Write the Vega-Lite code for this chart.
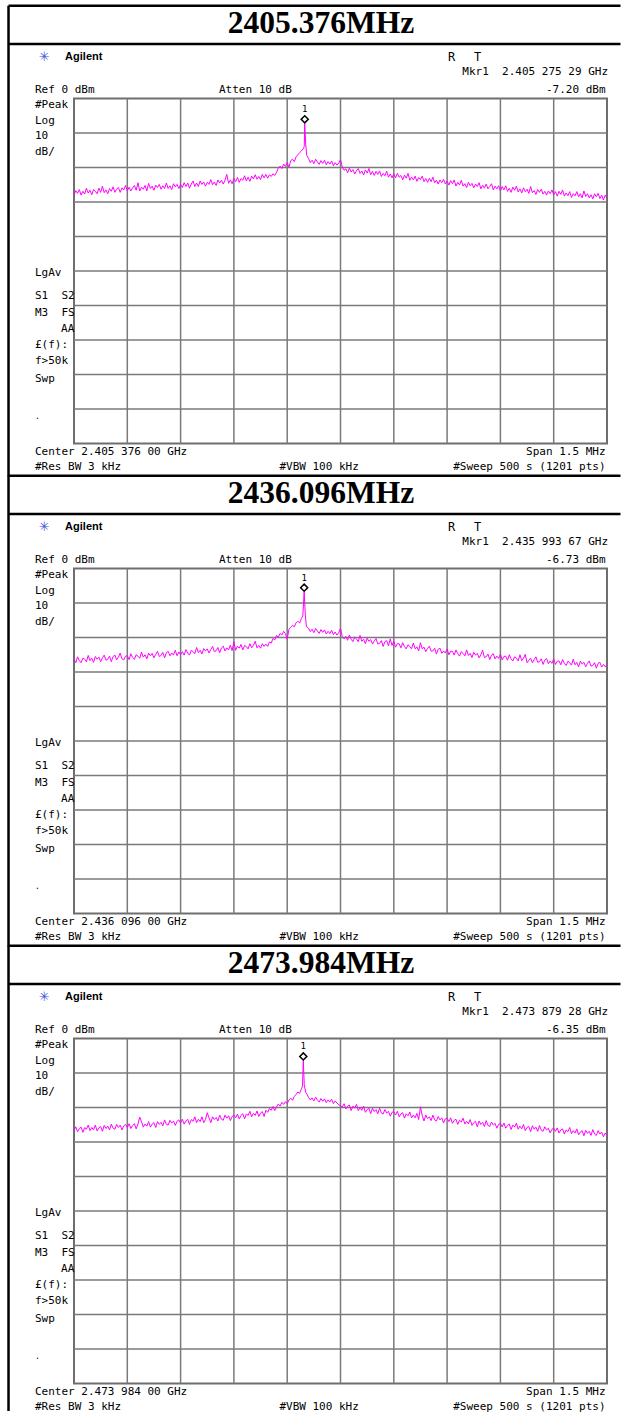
{
  "$schema": "https://vega.github.io/schema/vega-lite/v6.json",
  "padding": {"left": 6, "top": 2.5, "right": 0, "bottom": 0},
  "background": "white",
  "spacing": 125,
  "bounds": "flush",
  "config": {
    "view": {"stroke": "#6e6e6e", "strokeWidth": 2},
    "axis": {"disable": true, "labels": false, "ticks": false, "domain": false, "grid": false},
    "text": {"font": "DejaVu Sans Mono", "fontSize": 11, "baseline": "middle", "align": "left", "color": "#000000"},
    "concat": {"spacing": 125}
  },
  "datasets": {
    "hgrid": [{"dB":-90},{"dB":-80},{"dB":-70},{"dB":-60},{"dB":-50},{"dB":-40},{"dB":-30},{"dB":-20},{"dB":-10}],
    "vgrid": [{"div":-600},{"div":-450},{"div":-300},{"div":-150},{"div":0},{"div":150},{"div":300},{"div":450},{"div":600}],
    "p1": [
      {"kHz":-750,"dBm":-28.0},{"kHz":-745,"dBm":-26.7},{"kHz":-740,"dBm":-27.5},{"kHz":-735,"dBm":-26.4},{"kHz":-730,"dBm":-28.0},{"kHz":-725,"dBm":-26.9},{"kHz":-720,"dBm":-27.7},{"kHz":-715,"dBm":-26.0},{"kHz":-710,"dBm":-27.4},{"kHz":-705,"dBm":-26.6},
      {"kHz":-700,"dBm":-27.9},{"kHz":-695,"dBm":-26.4},{"kHz":-690,"dBm":-26.9},{"kHz":-685,"dBm":-27.6},{"kHz":-680,"dBm":-26.0},{"kHz":-675,"dBm":-27.2},{"kHz":-670,"dBm":-25.4},{"kHz":-665,"dBm":-27.3},{"kHz":-660,"dBm":-26.5},{"kHz":-655,"dBm":-27.6},
      {"kHz":-650,"dBm":-26.1},{"kHz":-645,"dBm":-26.9},{"kHz":-640,"dBm":-25.6},{"kHz":-635,"dBm":-27.2},{"kHz":-630,"dBm":-26.3},{"kHz":-625,"dBm":-25.8},{"kHz":-620,"dBm":-27.2},{"kHz":-615,"dBm":-25.9},{"kHz":-610,"dBm":-26.5},{"kHz":-605,"dBm":-25.2},
      {"kHz":-600,"dBm":-26.8},{"kHz":-595,"dBm":-25.7},{"kHz":-590,"dBm":-26.8},{"kHz":-585,"dBm":-25.9},{"kHz":-580,"dBm":-25.2},{"kHz":-575,"dBm":-26.6},{"kHz":-570,"dBm":-24.4},{"kHz":-565,"dBm":-26.8},{"kHz":-560,"dBm":-25.7},{"kHz":-555,"dBm":-26.3},
      {"kHz":-550,"dBm":-25.2},{"kHz":-545,"dBm":-26.8},{"kHz":-540,"dBm":-24.6},{"kHz":-535,"dBm":-26.1},{"kHz":-530,"dBm":-25.4},{"kHz":-525,"dBm":-26.6},{"kHz":-520,"dBm":-25.1},{"kHz":-515,"dBm":-25.8},{"kHz":-510,"dBm":-24.9},{"kHz":-505,"dBm":-26.3},
      {"kHz":-500,"dBm":-25.3},{"kHz":-495,"dBm":-26.1},{"kHz":-490,"dBm":-24.5},{"kHz":-485,"dBm":-26.1},{"kHz":-480,"dBm":-25.3},{"kHz":-475,"dBm":-26.4},{"kHz":-470,"dBm":-24.7},{"kHz":-465,"dBm":-25.6},{"kHz":-460,"dBm":-24.9},{"kHz":-455,"dBm":-26.1},
      {"kHz":-450,"dBm":-24.9},{"kHz":-445,"dBm":-25.8},{"kHz":-440,"dBm":-24.4},{"kHz":-435,"dBm":-25.5},{"kHz":-430,"dBm":-24.5},{"kHz":-425,"dBm":-26.0},{"kHz":-420,"dBm":-24.8},{"kHz":-415,"dBm":-23.9},{"kHz":-410,"dBm":-25.5},{"kHz":-405,"dBm":-24.5},
      {"kHz":-400,"dBm":-25.5},{"kHz":-395,"dBm":-23.9},{"kHz":-390,"dBm":-24.9},{"kHz":-385,"dBm":-24.2},{"kHz":-380,"dBm":-25.4},{"kHz":-375,"dBm":-24.3},{"kHz":-370,"dBm":-24.9},{"kHz":-365,"dBm":-23.5},{"kHz":-360,"dBm":-25.0},{"kHz":-355,"dBm":-24.2},
      {"kHz":-350,"dBm":-25.2},{"kHz":-345,"dBm":-23.6},{"kHz":-340,"dBm":-24.5},{"kHz":-335,"dBm":-23.7},{"kHz":-330,"dBm":-24.8},{"kHz":-325,"dBm":-23.7},{"kHz":-320,"dBm":-22.0},{"kHz":-315,"dBm":-24.6},{"kHz":-310,"dBm":-23.6},{"kHz":-305,"dBm":-24.7},
      {"kHz":-300,"dBm":-23.2},{"kHz":-295,"dBm":-24.1},{"kHz":-290,"dBm":-22.9},{"kHz":-285,"dBm":-24.3},{"kHz":-280,"dBm":-23.2},{"kHz":-275,"dBm":-23.7},{"kHz":-270,"dBm":-22.4},{"kHz":-265,"dBm":-23.9},{"kHz":-260,"dBm":-22.8},{"kHz":-255,"dBm":-24.0},
      {"kHz":-250,"dBm":-22.5},{"kHz":-245,"dBm":-23.3},{"kHz":-240,"dBm":-22.1},{"kHz":-235,"dBm":-23.4},{"kHz":-230,"dBm":-22.6},{"kHz":-225,"dBm":-23.5},{"kHz":-220,"dBm":-22.0},{"kHz":-215,"dBm":-23.0},{"kHz":-210,"dBm":-22.0},{"kHz":-205,"dBm":-23.1},
      {"kHz":-200,"dBm":-22.1},{"kHz":-195,"dBm":-22.6},{"kHz":-190,"dBm":-21.8},{"kHz":-185,"dBm":-22.3},{"kHz":-180,"dBm":-21.4},{"kHz":-175,"dBm":-20.2},{"kHz":-170,"dBm":-19.6},{"kHz":-165,"dBm":-20.3},{"kHz":-160,"dBm":-19.0},{"kHz":-155,"dBm":-19.7},
      {"kHz":-150,"dBm":-18.6},{"kHz":-145,"dBm":-19.9},{"kHz":-140,"dBm":-18.0},{"kHz":-135,"dBm":-17.6},{"kHz":-130,"dBm":-18.3},{"kHz":-125,"dBm":-16.9},{"kHz":-120,"dBm":-16.3},{"kHz":-115,"dBm":-15.7},{"kHz":-110,"dBm":-15.2},{"kHz":-105,"dBm":-14.6},
      {"kHz":-102,"dBm":-13.9},{"kHz":-100.7,"dBm":-7.2},{"kHz":-98,"dBm":-13.2},{"kHz":-95,"dBm":-16.5},{"kHz":-90,"dBm":-17.4},{"kHz":-85,"dBm":-18.6},{"kHz":-80,"dBm":-17.9},{"kHz":-75,"dBm":-18.9},{"kHz":-70,"dBm":-17.6},{"kHz":-65,"dBm":-18.4},
      {"kHz":-60,"dBm":-19.1},{"kHz":-55,"dBm":-18.0},{"kHz":-50,"dBm":-18.8},{"kHz":-45,"dBm":-17.9},{"kHz":-40,"dBm":-19.2},{"kHz":-35,"dBm":-18.3},{"kHz":-30,"dBm":-19.0},{"kHz":-25,"dBm":-18.1},{"kHz":-20,"dBm":-19.5},{"kHz":-15,"dBm":-18.6},
      {"kHz":-10,"dBm":-19.3},{"kHz":-5,"dBm":-18.7},{"kHz":0,"dBm":-17.7},{"kHz":5,"dBm":-19.9},{"kHz":10,"dBm":-20.8},{"kHz":15,"dBm":-20.4},{"kHz":20,"dBm":-21.5},{"kHz":25,"dBm":-20.2},{"kHz":30,"dBm":-21.3},{"kHz":35,"dBm":-20.6},
      {"kHz":40,"dBm":-21.9},{"kHz":45,"dBm":-20.9},{"kHz":50,"dBm":-20.3},{"kHz":55,"dBm":-21.7},{"kHz":60,"dBm":-21.0},{"kHz":65,"dBm":-22.2},{"kHz":70,"dBm":-20.7},{"kHz":75,"dBm":-21.6},{"kHz":80,"dBm":-20.3},{"kHz":85,"dBm":-22.1},
      {"kHz":90,"dBm":-21.1},{"kHz":95,"dBm":-22.3},{"kHz":100,"dBm":-21.1},{"kHz":105,"dBm":-22.0},{"kHz":110,"dBm":-21.0},{"kHz":115,"dBm":-22.6},{"kHz":120,"dBm":-21.7},{"kHz":125,"dBm":-22.4},{"kHz":130,"dBm":-21.1},{"kHz":135,"dBm":-22.8},
      {"kHz":140,"dBm":-21.9},{"kHz":145,"dBm":-23.0},{"kHz":150,"dBm":-21.8},{"kHz":155,"dBm":-23.0},{"kHz":160,"dBm":-21.7},{"kHz":165,"dBm":-22.8},{"kHz":170,"dBm":-22.3},{"kHz":175,"dBm":-23.6},{"kHz":180,"dBm":-22.2},{"kHz":185,"dBm":-23.1},
      {"kHz":190,"dBm":-21.7},{"kHz":195,"dBm":-23.7},{"kHz":200,"dBm":-22.8},{"kHz":205,"dBm":-23.6},{"kHz":210,"dBm":-22.5},{"kHz":215,"dBm":-24.0},{"kHz":220,"dBm":-22.9},{"kHz":225,"dBm":-23.5},{"kHz":230,"dBm":-22.5},{"kHz":235,"dBm":-24.1},
      {"kHz":240,"dBm":-23.2},{"kHz":245,"dBm":-24.3},{"kHz":250,"dBm":-23.1},{"kHz":255,"dBm":-24.1},{"kHz":260,"dBm":-22.8},{"kHz":265,"dBm":-24.4},{"kHz":270,"dBm":-23.7},{"kHz":275,"dBm":-24.8},{"kHz":280,"dBm":-23.6},{"kHz":285,"dBm":-24.4},
      {"kHz":290,"dBm":-23.4},{"kHz":295,"dBm":-24.8},{"kHz":300,"dBm":-23.9},{"kHz":305,"dBm":-25.1},{"kHz":310,"dBm":-23.8},{"kHz":315,"dBm":-24.7},{"kHz":320,"dBm":-23.6},{"kHz":325,"dBm":-25.4},{"kHz":330,"dBm":-24.3},{"kHz":335,"dBm":-25.1},
      {"kHz":340,"dBm":-23.7},{"kHz":345,"dBm":-25.4},{"kHz":350,"dBm":-24.7},{"kHz":355,"dBm":-25.8},{"kHz":360,"dBm":-24.3},{"kHz":365,"dBm":-25.3},{"kHz":370,"dBm":-24.6},{"kHz":375,"dBm":-25.9},{"kHz":380,"dBm":-24.8},{"kHz":385,"dBm":-25.5},
      {"kHz":390,"dBm":-24.4},{"kHz":395,"dBm":-26.2},{"kHz":400,"dBm":-25.1},{"kHz":405,"dBm":-26.0},{"kHz":410,"dBm":-24.8},{"kHz":415,"dBm":-26.2},{"kHz":420,"dBm":-25.5},{"kHz":425,"dBm":-24.7},{"kHz":430,"dBm":-26.5},{"kHz":435,"dBm":-25.4},
      {"kHz":440,"dBm":-26.2},{"kHz":445,"dBm":-25.3},{"kHz":450,"dBm":-26.8},{"kHz":455,"dBm":-25.5},{"kHz":460,"dBm":-26.5},{"kHz":465,"dBm":-25.3},{"kHz":470,"dBm":-26.9},{"kHz":475,"dBm":-26.0},{"kHz":480,"dBm":-27.2},{"kHz":485,"dBm":-25.7},
      {"kHz":490,"dBm":-26.6},{"kHz":495,"dBm":-25.4},{"kHz":500,"dBm":-27.1},{"kHz":505,"dBm":-26.2},{"kHz":510,"dBm":-27.4},{"kHz":515,"dBm":-25.9},{"kHz":520,"dBm":-27.0},{"kHz":525,"dBm":-26.3},{"kHz":530,"dBm":-27.5},{"kHz":535,"dBm":-25.5},
      {"kHz":540,"dBm":-27.3},{"kHz":545,"dBm":-26.7},{"kHz":550,"dBm":-27.8},{"kHz":555,"dBm":-26.4},{"kHz":560,"dBm":-27.2},{"kHz":565,"dBm":-26.3},{"kHz":570,"dBm":-27.7},{"kHz":575,"dBm":-26.9},{"kHz":580,"dBm":-28.0},{"kHz":585,"dBm":-26.8},
      {"kHz":590,"dBm":-27.6},{"kHz":595,"dBm":-26.5},{"kHz":600,"dBm":-27.9},{"kHz":605,"dBm":-27.0},{"kHz":610,"dBm":-28.3},{"kHz":615,"dBm":-26.9},{"kHz":620,"dBm":-27.8},{"kHz":625,"dBm":-26.5},{"kHz":630,"dBm":-28.3},{"kHz":635,"dBm":-27.4},
      {"kHz":640,"dBm":-28.2},{"kHz":645,"dBm":-27.0},{"kHz":650,"dBm":-28.7},{"kHz":655,"dBm":-27.6},{"kHz":660,"dBm":-28.2},{"kHz":665,"dBm":-27.0},{"kHz":670,"dBm":-28.5},{"kHz":675,"dBm":-27.6},{"kHz":680,"dBm":-28.8},{"kHz":685,"dBm":-26.8},
      {"kHz":690,"dBm":-28.4},{"kHz":695,"dBm":-27.6},{"kHz":700,"dBm":-28.8},{"kHz":705,"dBm":-27.9},{"kHz":710,"dBm":-29.1},{"kHz":715,"dBm":-27.6},{"kHz":720,"dBm":-28.5},{"kHz":725,"dBm":-27.5},{"kHz":730,"dBm":-29.0},{"kHz":735,"dBm":-28.0},
      {"kHz":740,"dBm":-29.4},{"kHz":745,"dBm":-28.0},{"kHz":750,"dBm":-28.9}
    ],
    "p2": [
      {"kHz":-750,"dBm":-26.2},{"kHz":-745,"dBm":-27.3},{"kHz":-740,"dBm":-25.6},{"kHz":-735,"dBm":-26.7},{"kHz":-730,"dBm":-27.3},{"kHz":-725,"dBm":-26.0},{"kHz":-720,"dBm":-26.3},{"kHz":-715,"dBm":-27.0},{"kHz":-710,"dBm":-25.2},{"kHz":-705,"dBm":-26.7},
      {"kHz":-700,"dBm":-26.0},{"kHz":-695,"dBm":-27.2},{"kHz":-690,"dBm":-25.5},{"kHz":-685,"dBm":-26.3},{"kHz":-680,"dBm":-25.7},{"kHz":-675,"dBm":-27.0},{"kHz":-670,"dBm":-25.9},{"kHz":-665,"dBm":-25.1},{"kHz":-660,"dBm":-26.6},{"kHz":-655,"dBm":-26.3},
      {"kHz":-650,"dBm":-25.4},{"kHz":-645,"dBm":-27.0},{"kHz":-640,"dBm":-25.5},{"kHz":-635,"dBm":-25.1},{"kHz":-630,"dBm":-26.5},{"kHz":-625,"dBm":-25.7},{"kHz":-620,"dBm":-24.5},{"kHz":-615,"dBm":-26.2},{"kHz":-610,"dBm":-26.5},{"kHz":-605,"dBm":-25.4},
      {"kHz":-600,"dBm":-25.3},{"kHz":-595,"dBm":-26.4},{"kHz":-590,"dBm":-24.7},{"kHz":-585,"dBm":-25.8},{"kHz":-580,"dBm":-26.3},{"kHz":-575,"dBm":-25.0},{"kHz":-570,"dBm":-25.4},{"kHz":-565,"dBm":-26.0},{"kHz":-560,"dBm":-24.2},{"kHz":-555,"dBm":-25.7},
      {"kHz":-550,"dBm":-25.0},{"kHz":-545,"dBm":-26.2},{"kHz":-540,"dBm":-24.5},{"kHz":-535,"dBm":-25.3},{"kHz":-530,"dBm":-24.6},{"kHz":-525,"dBm":-25.9},{"kHz":-520,"dBm":-24.9},{"kHz":-515,"dBm":-24.0},{"kHz":-510,"dBm":-25.5},{"kHz":-505,"dBm":-25.2},
      {"kHz":-500,"dBm":-24.3},{"kHz":-495,"dBm":-25.9},{"kHz":-490,"dBm":-24.4},{"kHz":-485,"dBm":-24.0},{"kHz":-480,"dBm":-25.3},{"kHz":-475,"dBm":-24.5},{"kHz":-470,"dBm":-25.1},{"kHz":-465,"dBm":-23.7},{"kHz":-460,"dBm":-25.3},{"kHz":-455,"dBm":-24.2},
      {"kHz":-450,"dBm":-25.0},{"kHz":-445,"dBm":-24.1},{"kHz":-440,"dBm":-25.1},{"kHz":-435,"dBm":-23.5},{"kHz":-430,"dBm":-24.5},{"kHz":-425,"dBm":-25.1},{"kHz":-420,"dBm":-23.7},{"kHz":-415,"dBm":-24.1},{"kHz":-410,"dBm":-24.7},{"kHz":-405,"dBm":-22.9},
      {"kHz":-400,"dBm":-24.4},{"kHz":-395,"dBm":-23.7},{"kHz":-390,"dBm":-24.8},{"kHz":-385,"dBm":-23.2},{"kHz":-380,"dBm":-23.9},{"kHz":-375,"dBm":-23.3},{"kHz":-370,"dBm":-24.5},{"kHz":-365,"dBm":-23.5},{"kHz":-360,"dBm":-22.6},{"kHz":-355,"dBm":-24.1},
      {"kHz":-350,"dBm":-23.8},{"kHz":-345,"dBm":-22.9},{"kHz":-340,"dBm":-24.4},{"kHz":-335,"dBm":-23.0},{"kHz":-330,"dBm":-22.5},{"kHz":-325,"dBm":-23.9},{"kHz":-320,"dBm":-23.0},{"kHz":-315,"dBm":-23.6},{"kHz":-310,"dBm":-22.2},{"kHz":-305,"dBm":-23.8},
      {"kHz":-300,"dBm":-21.2},{"kHz":-295,"dBm":-23.7},{"kHz":-290,"dBm":-22.5},{"kHz":-285,"dBm":-23.1},{"kHz":-280,"dBm":-22.0},{"kHz":-275,"dBm":-23.6},{"kHz":-270,"dBm":-22.3},{"kHz":-265,"dBm":-22.6},{"kHz":-260,"dBm":-23.3},{"kHz":-255,"dBm":-21.8},
      {"kHz":-250,"dBm":-23.0},{"kHz":-245,"dBm":-22.3},{"kHz":-240,"dBm":-21.1},{"kHz":-235,"dBm":-23.0},{"kHz":-230,"dBm":-22.3},{"kHz":-225,"dBm":-23.1},{"kHz":-220,"dBm":-21.8},{"kHz":-215,"dBm":-22.6},{"kHz":-210,"dBm":-21.9},{"kHz":-205,"dBm":-22.6},
      {"kHz":-200,"dBm":-21.3},{"kHz":-195,"dBm":-21.6},{"kHz":-190,"dBm":-20.3},{"kHz":-185,"dBm":-20.7},{"kHz":-180,"dBm":-19.4},{"kHz":-175,"dBm":-19.9},{"kHz":-170,"dBm":-18.8},{"kHz":-165,"dBm":-19.3},{"kHz":-160,"dBm":-18.2},{"kHz":-155,"dBm":-18.9},
      {"kHz":-150,"dBm":-20.5},{"kHz":-145,"dBm":-17.6},{"kHz":-140,"dBm":-17.0},{"kHz":-135,"dBm":-16.5},{"kHz":-130,"dBm":-16.9},{"kHz":-125,"dBm":-15.7},{"kHz":-120,"dBm":-15.3},{"kHz":-115,"dBm":-15.8},{"kHz":-110,"dBm":-14.5},{"kHz":-106,"dBm":-13.8},
      {"kHz":-102.3,"dBm":-6.73},{"kHz":-99,"dBm":-13.5},{"kHz":-96,"dBm":-16.8},{"kHz":-90,"dBm":-17.3},{"kHz":-85,"dBm":-18.3},{"kHz":-80,"dBm":-17.6},{"kHz":-75,"dBm":-18.6},{"kHz":-70,"dBm":-17.4},{"kHz":-65,"dBm":-18.1},{"kHz":-60,"dBm":-18.8},
      {"kHz":-55,"dBm":-17.7},{"kHz":-50,"dBm":-18.5},{"kHz":-45,"dBm":-17.8},{"kHz":-40,"dBm":-19.0},{"kHz":-35,"dBm":-18.2},{"kHz":-30,"dBm":-18.9},{"kHz":-25,"dBm":-17.9},{"kHz":-20,"dBm":-19.2},{"kHz":-15,"dBm":-18.4},{"kHz":-10,"dBm":-19.3},
      {"kHz":-5,"dBm":-18.6},{"kHz":0,"dBm":-17.3},{"kHz":5,"dBm":-19.8},{"kHz":10,"dBm":-20.4},{"kHz":15,"dBm":-19.7},{"kHz":20,"dBm":-20.8},{"kHz":25,"dBm":-19.3},{"kHz":30,"dBm":-20.5},{"kHz":35,"dBm":-21.2},{"kHz":40,"dBm":-19.9},
      {"kHz":45,"dBm":-20.4},{"kHz":50,"dBm":-21.2},{"kHz":55,"dBm":-19.4},{"kHz":60,"dBm":-21.1},{"kHz":65,"dBm":-20.5},{"kHz":70,"dBm":-21.8},{"kHz":75,"dBm":-20.2},{"kHz":80,"dBm":-21.1},{"kHz":85,"dBm":-20.6},{"kHz":90,"dBm":-21.9},
      {"kHz":95,"dBm":-21.0},{"kHz":100,"dBm":-20.3},{"kHz":105,"dBm":-21.9},{"kHz":110,"dBm":-21.7},{"kHz":115,"dBm":-20.9},{"kHz":120,"dBm":-22.6},{"kHz":125,"dBm":-21.2},{"kHz":130,"dBm":-20.9},{"kHz":135,"dBm":-22.4},{"kHz":140,"dBm":-20.4},
      {"kHz":145,"dBm":-22.3},{"kHz":150,"dBm":-21.1},{"kHz":155,"dBm":-22.8},{"kHz":160,"dBm":-21.8},{"kHz":165,"dBm":-21.8},{"kHz":170,"dBm":-23.0},{"kHz":175,"dBm":-21.5},{"kHz":180,"dBm":-22.6},{"kHz":185,"dBm":-23.3},{"kHz":190,"dBm":-22.1},
      {"kHz":195,"dBm":-22.6},{"kHz":200,"dBm":-23.3},{"kHz":205,"dBm":-21.6},{"kHz":210,"dBm":-23.3},{"kHz":215,"dBm":-22.7},{"kHz":220,"dBm":-23.9},{"kHz":225,"dBm":-21.5},{"kHz":230,"dBm":-23.3},{"kHz":235,"dBm":-22.8},{"kHz":240,"dBm":-24.1},
      {"kHz":245,"dBm":-23.2},{"kHz":250,"dBm":-22.5},{"kHz":255,"dBm":-24.0},{"kHz":260,"dBm":-23.9},{"kHz":265,"dBm":-23.1},{"kHz":270,"dBm":-24.8},{"kHz":275,"dBm":-23.4},{"kHz":280,"dBm":-23.1},{"kHz":285,"dBm":-24.6},{"kHz":290,"dBm":-23.9},
      {"kHz":295,"dBm":-24.5},{"kHz":300,"dBm":-23.3},{"kHz":305,"dBm":-25.0},{"kHz":310,"dBm":-24.0},{"kHz":315,"dBm":-24.0},{"kHz":320,"dBm":-25.1},{"kHz":325,"dBm":-23.6},{"kHz":330,"dBm":-24.7},{"kHz":335,"dBm":-25.4},{"kHz":340,"dBm":-24.1},
      {"kHz":345,"dBm":-24.6},{"kHz":350,"dBm":-25.3},{"kHz":355,"dBm":-23.6},{"kHz":360,"dBm":-25.2},{"kHz":365,"dBm":-24.6},{"kHz":370,"dBm":-25.8},{"kHz":375,"dBm":-24.3},{"kHz":380,"dBm":-25.1},{"kHz":385,"dBm":-24.6},{"kHz":390,"dBm":-25.9},
      {"kHz":395,"dBm":-25.0},{"kHz":400,"dBm":-23.7},{"kHz":405,"dBm":-25.8},{"kHz":410,"dBm":-25.6},{"kHz":415,"dBm":-24.8},{"kHz":420,"dBm":-26.4},{"kHz":425,"dBm":-25.1},{"kHz":430,"dBm":-24.7},{"kHz":435,"dBm":-26.2},{"kHz":440,"dBm":-25.4},
      {"kHz":445,"dBm":-26.1},{"kHz":450,"dBm":-24.8},{"kHz":455,"dBm":-26.5},{"kHz":460,"dBm":-25.5},{"kHz":465,"dBm":-25.4},{"kHz":470,"dBm":-26.6},{"kHz":475,"dBm":-25.0},{"kHz":480,"dBm":-26.2},{"kHz":485,"dBm":-26.8},{"kHz":490,"dBm":-25.6},
      {"kHz":495,"dBm":-26.0},{"kHz":500,"dBm":-26.8},{"kHz":505,"dBm":-25.0},{"kHz":510,"dBm":-26.7},{"kHz":515,"dBm":-26.0},{"kHz":520,"dBm":-24.9},{"kHz":525,"dBm":-27.3},{"kHz":530,"dBm":-26.6},{"kHz":535,"dBm":-26.0},{"kHz":540,"dBm":-27.3},
      {"kHz":545,"dBm":-26.4},{"kHz":550,"dBm":-25.6},{"kHz":555,"dBm":-27.2},{"kHz":560,"dBm":-27.0},{"kHz":565,"dBm":-26.2},{"kHz":570,"dBm":-27.8},{"kHz":575,"dBm":-26.5},{"kHz":580,"dBm":-26.1},{"kHz":585,"dBm":-27.6},{"kHz":590,"dBm":-26.8},
      {"kHz":595,"dBm":-27.5},{"kHz":600,"dBm":-26.2},{"kHz":605,"dBm":-27.8},{"kHz":610,"dBm":-26.9},{"kHz":615,"dBm":-26.8},{"kHz":620,"dBm":-27.9},{"kHz":625,"dBm":-26.4},{"kHz":630,"dBm":-27.5},{"kHz":635,"dBm":-28.1},{"kHz":640,"dBm":-26.9},
      {"kHz":645,"dBm":-27.3},{"kHz":650,"dBm":-28.0},{"kHz":655,"dBm":-26.3},{"kHz":660,"dBm":-27.9},{"kHz":665,"dBm":-27.2},{"kHz":670,"dBm":-28.5},{"kHz":675,"dBm":-26.9},{"kHz":680,"dBm":-27.7},{"kHz":685,"dBm":-27.2},{"kHz":690,"dBm":-28.5},
      {"kHz":695,"dBm":-27.5},{"kHz":700,"dBm":-26.8},{"kHz":705,"dBm":-28.3},{"kHz":710,"dBm":-28.1},{"kHz":715,"dBm":-27.3},{"kHz":720,"dBm":-28.9},{"kHz":725,"dBm":-27.5},{"kHz":730,"dBm":-27.2},{"kHz":735,"dBm":-28.6},{"kHz":740,"dBm":-27.8},
      {"kHz":745,"dBm":-28.5},{"kHz":750,"dBm":-27.8}
    ],
    "p3": [
      {"kHz":-750,"dBm":-26.7},{"kHz":-745,"dBm":-25.6},{"kHz":-740,"dBm":-27.0},{"kHz":-735,"dBm":-26.1},{"kHz":-730,"dBm":-25.7},{"kHz":-725,"dBm":-27.2},{"kHz":-720,"dBm":-25.8},{"kHz":-715,"dBm":-26.3},{"kHz":-710,"dBm":-25.1},{"kHz":-705,"dBm":-26.7},
      {"kHz":-700,"dBm":-25.8},{"kHz":-695,"dBm":-26.5},{"kHz":-690,"dBm":-25.1},{"kHz":-685,"dBm":-26.8},{"kHz":-680,"dBm":-25.9},{"kHz":-675,"dBm":-25.5},{"kHz":-670,"dBm":-26.9},{"kHz":-665,"dBm":-25.2},{"kHz":-660,"dBm":-26.1},{"kHz":-655,"dBm":-25.4},
      {"kHz":-650,"dBm":-26.5},{"kHz":-645,"dBm":-24.8},{"kHz":-640,"dBm":-26.0},{"kHz":-635,"dBm":-26.3},{"kHz":-630,"dBm":-24.9},{"kHz":-625,"dBm":-25.8},{"kHz":-620,"dBm":-25.1},{"kHz":-615,"dBm":-26.5},{"kHz":-610,"dBm":-25.3},{"kHz":-605,"dBm":-24.9},
      {"kHz":-600,"dBm":-25.8},{"kHz":-595,"dBm":-24.7},{"kHz":-590,"dBm":-26.1},{"kHz":-585,"dBm":-25.2},{"kHz":-580,"dBm":-24.7},{"kHz":-575,"dBm":-26.2},{"kHz":-570,"dBm":-24.8},{"kHz":-565,"dBm":-22.8},{"kHz":-560,"dBm":-24.1},{"kHz":-555,"dBm":-25.7},
      {"kHz":-550,"dBm":-24.8},{"kHz":-545,"dBm":-25.4},{"kHz":-540,"dBm":-24.1},{"kHz":-535,"dBm":-25.7},{"kHz":-530,"dBm":-24.8},{"kHz":-525,"dBm":-24.4},{"kHz":-520,"dBm":-25.8},{"kHz":-515,"dBm":-24.1},{"kHz":-510,"dBm":-24.9},{"kHz":-505,"dBm":-24.3},
      {"kHz":-500,"dBm":-25.3},{"kHz":-495,"dBm":-23.6},{"kHz":-490,"dBm":-24.9},{"kHz":-485,"dBm":-25.1},{"kHz":-480,"dBm":-23.7},{"kHz":-475,"dBm":-24.5},{"kHz":-470,"dBm":-23.9},{"kHz":-465,"dBm":-25.2},{"kHz":-460,"dBm":-24.0},{"kHz":-455,"dBm":-23.6},
      {"kHz":-450,"dBm":-24.5},{"kHz":-445,"dBm":-23.4},{"kHz":-440,"dBm":-24.8},{"kHz":-435,"dBm":-23.9},{"kHz":-430,"dBm":-23.4},{"kHz":-425,"dBm":-24.9},{"kHz":-420,"dBm":-23.5},{"kHz":-415,"dBm":-24.0},{"kHz":-410,"dBm":-22.7},{"kHz":-405,"dBm":-24.4},
      {"kHz":-400,"dBm":-23.4},{"kHz":-395,"dBm":-24.1},{"kHz":-390,"dBm":-22.7},{"kHz":-385,"dBm":-24.4},{"kHz":-380,"dBm":-23.5},{"kHz":-375,"dBm":-21.5},{"kHz":-370,"dBm":-23.0},{"kHz":-365,"dBm":-24.4},{"kHz":-360,"dBm":-22.7},{"kHz":-355,"dBm":-23.5},
      {"kHz":-350,"dBm":-22.9},{"kHz":-345,"dBm":-23.9},{"kHz":-340,"dBm":-22.2},{"kHz":-335,"dBm":-23.4},{"kHz":-330,"dBm":-23.7},{"kHz":-325,"dBm":-22.2},{"kHz":-320,"dBm":-23.1},{"kHz":-315,"dBm":-22.4},{"kHz":-310,"dBm":-23.8},{"kHz":-305,"dBm":-22.6},
      {"kHz":-300,"dBm":-22.2},{"kHz":-295,"dBm":-23.0},{"kHz":-290,"dBm":-21.9},{"kHz":-285,"dBm":-23.3},{"kHz":-280,"dBm":-22.3},{"kHz":-275,"dBm":-21.8},{"kHz":-270,"dBm":-23.3},{"kHz":-265,"dBm":-21.9},{"kHz":-260,"dBm":-22.3},{"kHz":-255,"dBm":-21.1},
      {"kHz":-250,"dBm":-22.7},{"kHz":-245,"dBm":-21.7},{"kHz":-240,"dBm":-22.3},{"kHz":-235,"dBm":-21.0},{"kHz":-230,"dBm":-22.6},{"kHz":-225,"dBm":-21.6},{"kHz":-220,"dBm":-21.2},{"kHz":-215,"dBm":-22.6},{"kHz":-210,"dBm":-20.8},{"kHz":-205,"dBm":-21.4},
      {"kHz":-200,"dBm":-20.3},{"kHz":-195,"dBm":-20.8},{"kHz":-190,"dBm":-19.7},{"kHz":-185,"dBm":-20.9},{"kHz":-180,"dBm":-19.8},{"kHz":-175,"dBm":-19.0},{"kHz":-170,"dBm":-19.6},{"kHz":-165,"dBm":-18.5},{"kHz":-160,"dBm":-19.1},{"kHz":-155,"dBm":-18.3},
      {"kHz":-150,"dBm":-18.9},{"kHz":-145,"dBm":-17.8},{"kHz":-140,"dBm":-17.3},{"kHz":-135,"dBm":-17.9},{"kHz":-130,"dBm":-16.8},{"kHz":-125,"dBm":-16.2},{"kHz":-120,"dBm":-15.5},{"kHz":-115,"dBm":-15.9},{"kHz":-110,"dBm":-14.6},{"kHz":-107,"dBm":-13.8},
      {"kHz":-104.7,"dBm":-6.35},{"kHz":-102,"dBm":-13.4},{"kHz":-98,"dBm":-15.6},{"kHz":-94,"dBm":-16.2},{"kHz":-90,"dBm":-17.1},{"kHz":-85,"dBm":-17.8},{"kHz":-80,"dBm":-17.2},{"kHz":-75,"dBm":-18.1},{"kHz":-70,"dBm":-17.0},{"kHz":-65,"dBm":-17.9},
      {"kHz":-60,"dBm":-18.4},{"kHz":-55,"dBm":-17.4},{"kHz":-50,"dBm":-18.2},{"kHz":-45,"dBm":-17.5},{"kHz":-40,"dBm":-18.6},{"kHz":-35,"dBm":-17.8},{"kHz":-30,"dBm":-18.4},{"kHz":-25,"dBm":-17.6},{"kHz":-20,"dBm":-18.9},{"kHz":-15,"dBm":-18.1},
      {"kHz":-10,"dBm":-18.7},{"kHz":-5,"dBm":-19.2},{"kHz":0,"dBm":-19.5},{"kHz":5,"dBm":-19.9},{"kHz":10,"dBm":-18.9},{"kHz":15,"dBm":-20.4},{"kHz":20,"dBm":-19.6},{"kHz":25,"dBm":-19.3},{"kHz":30,"dBm":-20.9},{"kHz":35,"dBm":-19.6},
      {"kHz":40,"dBm":-20.2},{"kHz":45,"dBm":-19.1},{"kHz":50,"dBm":-20.9},{"kHz":55,"dBm":-20.0},{"kHz":60,"dBm":-20.8},{"kHz":65,"dBm":-19.6},{"kHz":70,"dBm":-21.4},{"kHz":75,"dBm":-20.6},{"kHz":80,"dBm":-20.2},{"kHz":85,"dBm":-21.8},
      {"kHz":90,"dBm":-20.2},{"kHz":95,"dBm":-21.2},{"kHz":100,"dBm":-20.6},{"kHz":105,"dBm":-21.8},{"kHz":110,"dBm":-20.2},{"kHz":115,"dBm":-21.6},{"kHz":120,"dBm":-21.9},{"kHz":125,"dBm":-20.6},{"kHz":130,"dBm":-21.6},{"kHz":135,"dBm":-21.1},
      {"kHz":140,"dBm":-22.5},{"kHz":145,"dBm":-21.4},{"kHz":150,"dBm":-21.2},{"kHz":155,"dBm":-22.2},{"kHz":160,"dBm":-21.1},{"kHz":165,"dBm":-22.7},{"kHz":170,"dBm":-21.9},{"kHz":175,"dBm":-21.5},{"kHz":180,"dBm":-23.1},{"kHz":185,"dBm":-21.8},
      {"kHz":190,"dBm":-22.4},{"kHz":195,"dBm":-21.3},{"kHz":200,"dBm":-23.0},{"kHz":205,"dBm":-22.2},{"kHz":210,"dBm":-23.0},{"kHz":215,"dBm":-21.7},{"kHz":220,"dBm":-23.5},{"kHz":225,"dBm":-19.8},{"kHz":230,"dBm":-22.3},{"kHz":235,"dBm":-23.9},
      {"kHz":240,"dBm":-22.2},{"kHz":245,"dBm":-23.2},{"kHz":250,"dBm":-22.7},{"kHz":255,"dBm":-23.8},{"kHz":260,"dBm":-22.2},{"kHz":265,"dBm":-23.6},{"kHz":270,"dBm":-23.9},{"kHz":275,"dBm":-22.6},{"kHz":280,"dBm":-23.6},{"kHz":285,"dBm":-23.0},
      {"kHz":290,"dBm":-24.5},{"kHz":295,"dBm":-23.3},{"kHz":300,"dBm":-23.1},{"kHz":305,"dBm":-24.1},{"kHz":310,"dBm":-23.0},{"kHz":315,"dBm":-24.6},{"kHz":320,"dBm":-23.7},{"kHz":325,"dBm":-23.4},{"kHz":330,"dBm":-24.9},{"kHz":335,"dBm":-23.7},
      {"kHz":340,"dBm":-24.2},{"kHz":345,"dBm":-23.1},{"kHz":350,"dBm":-24.8},{"kHz":355,"dBm":-24.0},{"kHz":360,"dBm":-24.7},{"kHz":365,"dBm":-23.5},{"kHz":370,"dBm":-25.2},{"kHz":375,"dBm":-24.4},{"kHz":380,"dBm":-24.0},{"kHz":385,"dBm":-25.6},
      {"kHz":390,"dBm":-23.9},{"kHz":395,"dBm":-24.9},{"kHz":400,"dBm":-24.3},{"kHz":405,"dBm":-25.5},{"kHz":410,"dBm":-23.8},{"kHz":415,"dBm":-25.2},{"kHz":420,"dBm":-25.5},{"kHz":425,"dBm":-24.2},{"kHz":430,"dBm":-25.1},{"kHz":435,"dBm":-24.6},
      {"kHz":440,"dBm":-26.0},{"kHz":445,"dBm":-24.9},{"kHz":450,"dBm":-24.6},{"kHz":455,"dBm":-25.6},{"kHz":460,"dBm":-24.5},{"kHz":465,"dBm":-26.0},{"kHz":470,"dBm":-25.2},{"kHz":475,"dBm":-24.8},{"kHz":480,"dBm":-26.4},{"kHz":485,"dBm":-25.1},
      {"kHz":490,"dBm":-25.7},{"kHz":495,"dBm":-24.5},{"kHz":500,"dBm":-26.3},{"kHz":505,"dBm":-25.4},{"kHz":510,"dBm":-26.2},{"kHz":515,"dBm":-24.9},{"kHz":520,"dBm":-26.7},{"kHz":525,"dBm":-25.8},{"kHz":530,"dBm":-25.5},{"kHz":535,"dBm":-27.0},
      {"kHz":540,"dBm":-25.3},{"kHz":545,"dBm":-26.3},{"kHz":550,"dBm":-25.7},{"kHz":555,"dBm":-26.9},{"kHz":560,"dBm":-25.2},{"kHz":565,"dBm":-26.6},{"kHz":570,"dBm":-26.9},{"kHz":575,"dBm":-25.6},{"kHz":580,"dBm":-26.5},{"kHz":585,"dBm":-26.0},
      {"kHz":590,"dBm":-27.4},{"kHz":595,"dBm":-26.3},{"kHz":600,"dBm":-26.0},{"kHz":605,"dBm":-26.9},{"kHz":610,"dBm":-25.9},{"kHz":615,"dBm":-27.4},{"kHz":620,"dBm":-26.5},{"kHz":625,"dBm":-26.2},{"kHz":630,"dBm":-27.7},{"kHz":635,"dBm":-26.5},
      {"kHz":640,"dBm":-27.0},{"kHz":645,"dBm":-25.8},{"kHz":650,"dBm":-27.6},{"kHz":655,"dBm":-26.7},{"kHz":660,"dBm":-27.4},{"kHz":665,"dBm":-26.2},{"kHz":670,"dBm":-27.9},{"kHz":675,"dBm":-27.1},{"kHz":680,"dBm":-26.7},{"kHz":685,"dBm":-28.2},
      {"kHz":690,"dBm":-26.6},{"kHz":695,"dBm":-27.5},{"kHz":700,"dBm":-26.9},{"kHz":705,"dBm":-28.1},{"kHz":710,"dBm":-26.4},{"kHz":715,"dBm":-27.7},{"kHz":720,"dBm":-28.1},{"kHz":725,"dBm":-26.7},{"kHz":730,"dBm":-27.7},{"kHz":735,"dBm":-27.1},
      {"kHz":740,"dBm":-28.5},{"kHz":745,"dBm":-27.4},{"kHz":750,"dBm":-28.1}
    ]
  },
  "vconcat": [
    {
      "width": 533, "height": 345,
      "data": {"values": [{"title": "2405.376MHz", "marker": "Mkr1\u00a0\u00a02.405 275 29 GHz", "level": "-7.20 dBm", "center": "Center 2.405 376 00 GHz", "peak_kHz": -100.7, "peak_dBm": -7.2}]},
      "layer": [
        {"data": {"name": "hgrid"}, "mark": {"type": "rule", "color": "#7a7a7a", "strokeWidth": 1.5}, "encoding": {"y": {"field": "dB", "type": "quantitative", "scale": {"domain": [-100, 0], "nice": false, "zero": false}}}},
        {"data": {"name": "vgrid"}, "mark": {"type": "rule", "color": "#7a7a7a", "strokeWidth": 1.5}, "encoding": {"x": {"field": "div", "type": "quantitative", "scale": {"domain": [-750, 750], "nice": false, "zero": false}}}},
        {"data": {"name": "p1"}, "mark": {"type": "line", "color": "#ff00ff", "strokeWidth": 1, "clip": true},
         "encoding": {
           "x": {"field": "kHz", "type": "quantitative", "scale": {"domain": [-750, 750], "nice": false, "zero": false}},
           "y": {"field": "dBm", "type": "quantitative", "scale": {"domain": [-100, 0], "nice": false, "zero": false}}}},
        {"mark": {"type": "point", "shape": "diamond", "filled": true, "fill": "white", "stroke": "black", "strokeWidth": 1.5, "size": 50, "yOffset": -4, "opacity": 1},
         "encoding": {"x": {"field": "peak_kHz", "type": "quantitative"}, "y": {"field": "peak_dBm", "type": "quantitative"}}},
        {"mark": {"type": "text", "fontSize": 9, "dy": -14, "align": "center"}, "encoding": {"x": {"field": "peak_kHz", "type": "quantitative"}, "y": {"field": "peak_dBm", "type": "quantitative"}, "text": {"value": "1"}}},
        {"mark": {"type": "rule", "color": "black", "strokeWidth": 2.5}, "encoding": {"x": {"datum": -934.3}, "x2": {"datum": 788}, "y": {"datum": 26.9}}},
        {"mark": {"type": "rule", "color": "black", "strokeWidth": 2.5}, "encoding": {"x": {"datum": -934.3}, "x2": {"datum": 788}, "y": {"datum": 15.8}}},
        {"mark": {"type": "rule", "color": "black", "strokeWidth": 2.5}, "encoding": {"x": {"datum": -934.3}, "y": {"datum": 26.9}, "y2": {"datum": -109.6}}},
        {"mark": {"type": "text", "font": "Liberation Serif", "fontWeight": "bold", "fontSize": 31.5, "align": "center"}, "encoding": {"x": {"datum": -55}, "y": {"datum": 21.45}, "text": {"field": "title"}}},
        {"mark": {"type": "text", "font": "DejaVu Sans", "fontSize": 13, "align": "center", "color": "#3f55e0"}, "encoding": {"x": {"datum": -834}, "y": {"datum": 12.17}, "text": {"value": "✳"}}},
        {"mark": {"type": "text", "font": "Liberation Sans", "fontWeight": "bold", "fontSize": 11}, "encoding": {"x": {"datum": -775}, "y": {"datum": 12.17}, "text": {"value": "Agilent"}}},
        {"mark": {"type": "text", "fontSize": 12}, "encoding": {"x": {"datum": 302.5}, "y": {"datum": 12.17}, "text": {"value": "R"}}},
        {"mark": {"type": "text", "fontSize": 12}, "encoding": {"x": {"datum": 375.7}, "y": {"datum": 12.17}, "text": {"value": "T"}}},
        {"mark": {"type": "text", "align": "right"}, "encoding": {"x": {"datum": 753}, "y": {"datum": 7.54}, "text": {"field": "marker"}}},
        {"mark": {"type": "text"}, "encoding": {"x": {"datum": -860}, "y": {"datum": 2.32}, "text": {"value": "Ref 0 dBm"}}},
        {"mark": {"type": "text"}, "encoding": {"x": {"datum": -342}, "y": {"datum": 2.32}, "text": {"value": "Atten 10 dB"}}},
        {"mark": {"type": "text", "align": "right"}, "encoding": {"x": {"datum": 746}, "y": {"datum": 2.32}, "text": {"field": "level"}}},
        {"mark": {"type": "text"}, "encoding": {"x": {"datum": -860}, "y": {"datum": -1.74}, "text": {"value": "#Peak"}}},
        {"mark": {"type": "text"}, "encoding": {"x": {"datum": -860}, "y": {"datum": -6.38}, "text": {"value": "Log"}}},
        {"mark": {"type": "text"}, "encoding": {"x": {"datum": -860}, "y": {"datum": -11.01}, "text": {"value": "10"}}},
        {"mark": {"type": "text"}, "encoding": {"x": {"datum": -860}, "y": {"datum": -15.65}, "text": {"value": "dB/"}}},
        {"mark": {"type": "text"}, "encoding": {"x": {"datum": -860}, "y": {"datum": -50.72}, "text": {"value": "LgAv"}}},
        {"mark": {"type": "text"}, "encoding": {"x": {"datum": -860}, "y": {"datum": -57.39}, "text": {"value": "S1\u00a0\u00a0S2"}}},
        {"mark": {"type": "text"}, "encoding": {"x": {"datum": -860}, "y": {"datum": -62.03}, "text": {"value": "M3\u00a0\u00a0FS"}}},
        {"mark": {"type": "text", "align": "right"}, "encoding": {"x": {"datum": -749}, "y": {"datum": -66.67}, "text": {"value": "AA"}}},
        {"mark": {"type": "text"}, "encoding": {"x": {"datum": -860}, "y": {"datum": -71.59}, "text": {"value": "£(f):"}}},
        {"mark": {"type": "text"}, "encoding": {"x": {"datum": -860}, "y": {"datum": -76.23}, "text": {"value": "f>50k"}}},
        {"mark": {"type": "text"}, "encoding": {"x": {"datum": -860}, "y": {"datum": -81.16}, "text": {"value": "Swp"}}},
        {"mark": {"type": "text", "fontSize": 8}, "encoding": {"x": {"datum": -860}, "y": {"datum": -92.2}, "text": {"value": "."}}},
        {"mark": {"type": "text"}, "encoding": {"x": {"datum": -860}, "y": {"datum": -102.32}, "text": {"field": "center"}}},
        {"mark": {"type": "text", "align": "right"}, "encoding": {"x": {"datum": 746}, "y": {"datum": -102.32}, "text": {"value": "Span 1.5 MHz"}}},
        {"mark": {"type": "text"}, "encoding": {"x": {"datum": -860}, "y": {"datum": -106.67}, "text": {"value": "#Res BW 3 kHz"}}},
        {"mark": {"type": "text"}, "encoding": {"x": {"datum": -172}, "y": {"datum": -106.67}, "text": {"value": "#VBW 100 kHz"}}},
        {"mark": {"type": "text", "align": "right"}, "encoding": {"x": {"datum": 746}, "y": {"datum": -106.67}, "text": {"value": "#Sweep 500 s (1201 pts)"}}}
      ]
    },
    {
      "width": 533, "height": 345,
      "data": {"values": [{"title": "2436.096MHz", "marker": "Mkr1\u00a0\u00a02.435 993 67 GHz", "level": "-6.73 dBm", "center": "Center 2.436 096 00 GHz", "peak_kHz": -102.3, "peak_dBm": -6.73}]},
      "layer": [
        {"data": {"name": "hgrid"}, "mark": {"type": "rule", "color": "#7a7a7a", "strokeWidth": 1.5}, "encoding": {"y": {"field": "dB", "type": "quantitative", "scale": {"domain": [-100, 0], "nice": false, "zero": false}}}},
        {"data": {"name": "vgrid"}, "mark": {"type": "rule", "color": "#7a7a7a", "strokeWidth": 1.5}, "encoding": {"x": {"field": "div", "type": "quantitative", "scale": {"domain": [-750, 750], "nice": false, "zero": false}}}},
        {"data": {"name": "p2"}, "mark": {"type": "line", "color": "#ff00ff", "strokeWidth": 1, "clip": true},
         "encoding": {
           "x": {"field": "kHz", "type": "quantitative", "scale": {"domain": [-750, 750], "nice": false, "zero": false}},
           "y": {"field": "dBm", "type": "quantitative", "scale": {"domain": [-100, 0], "nice": false, "zero": false}}}},
        {"mark": {"type": "point", "shape": "diamond", "filled": true, "fill": "white", "stroke": "black", "strokeWidth": 1.5, "size": 50, "yOffset": -4, "opacity": 1},
         "encoding": {"x": {"field": "peak_kHz", "type": "quantitative"}, "y": {"field": "peak_dBm", "type": "quantitative"}}},
        {"mark": {"type": "text", "fontSize": 9, "dy": -14, "align": "center"}, "encoding": {"x": {"field": "peak_kHz", "type": "quantitative"}, "y": {"field": "peak_dBm", "type": "quantitative"}, "text": {"value": "1"}}},
        {"mark": {"type": "rule", "color": "black", "strokeWidth": 2.5}, "encoding": {"x": {"datum": -934.3}, "x2": {"datum": 788}, "y": {"datum": 26.9}}},
        {"mark": {"type": "rule", "color": "black", "strokeWidth": 2.5}, "encoding": {"x": {"datum": -934.3}, "x2": {"datum": 788}, "y": {"datum": 15.8}}},
        {"mark": {"type": "rule", "color": "black", "strokeWidth": 2.5}, "encoding": {"x": {"datum": -934.3}, "y": {"datum": 26.9}, "y2": {"datum": -109.6}}},
        {"mark": {"type": "text", "font": "Liberation Serif", "fontWeight": "bold", "fontSize": 31.5, "align": "center"}, "encoding": {"x": {"datum": -55}, "y": {"datum": 21.45}, "text": {"field": "title"}}},
        {"mark": {"type": "text", "font": "DejaVu Sans", "fontSize": 13, "align": "center", "color": "#3f55e0"}, "encoding": {"x": {"datum": -834}, "y": {"datum": 12.17}, "text": {"value": "✳"}}},
        {"mark": {"type": "text", "font": "Liberation Sans", "fontWeight": "bold", "fontSize": 11}, "encoding": {"x": {"datum": -775}, "y": {"datum": 12.17}, "text": {"value": "Agilent"}}},
        {"mark": {"type": "text", "fontSize": 12}, "encoding": {"x": {"datum": 302.5}, "y": {"datum": 12.17}, "text": {"value": "R"}}},
        {"mark": {"type": "text", "fontSize": 12}, "encoding": {"x": {"datum": 375.7}, "y": {"datum": 12.17}, "text": {"value": "T"}}},
        {"mark": {"type": "text", "align": "right"}, "encoding": {"x": {"datum": 753}, "y": {"datum": 7.54}, "text": {"field": "marker"}}},
        {"mark": {"type": "text"}, "encoding": {"x": {"datum": -860}, "y": {"datum": 2.32}, "text": {"value": "Ref 0 dBm"}}},
        {"mark": {"type": "text"}, "encoding": {"x": {"datum": -342}, "y": {"datum": 2.32}, "text": {"value": "Atten 10 dB"}}},
        {"mark": {"type": "text", "align": "right"}, "encoding": {"x": {"datum": 746}, "y": {"datum": 2.32}, "text": {"field": "level"}}},
        {"mark": {"type": "text"}, "encoding": {"x": {"datum": -860}, "y": {"datum": -1.74}, "text": {"value": "#Peak"}}},
        {"mark": {"type": "text"}, "encoding": {"x": {"datum": -860}, "y": {"datum": -6.38}, "text": {"value": "Log"}}},
        {"mark": {"type": "text"}, "encoding": {"x": {"datum": -860}, "y": {"datum": -11.01}, "text": {"value": "10"}}},
        {"mark": {"type": "text"}, "encoding": {"x": {"datum": -860}, "y": {"datum": -15.65}, "text": {"value": "dB/"}}},
        {"mark": {"type": "text"}, "encoding": {"x": {"datum": -860}, "y": {"datum": -50.72}, "text": {"value": "LgAv"}}},
        {"mark": {"type": "text"}, "encoding": {"x": {"datum": -860}, "y": {"datum": -57.39}, "text": {"value": "S1\u00a0\u00a0S2"}}},
        {"mark": {"type": "text"}, "encoding": {"x": {"datum": -860}, "y": {"datum": -62.03}, "text": {"value": "M3\u00a0\u00a0FS"}}},
        {"mark": {"type": "text", "align": "right"}, "encoding": {"x": {"datum": -749}, "y": {"datum": -66.67}, "text": {"value": "AA"}}},
        {"mark": {"type": "text"}, "encoding": {"x": {"datum": -860}, "y": {"datum": -71.59}, "text": {"value": "£(f):"}}},
        {"mark": {"type": "text"}, "encoding": {"x": {"datum": -860}, "y": {"datum": -76.23}, "text": {"value": "f>50k"}}},
        {"mark": {"type": "text"}, "encoding": {"x": {"datum": -860}, "y": {"datum": -81.16}, "text": {"value": "Swp"}}},
        {"mark": {"type": "text", "fontSize": 8}, "encoding": {"x": {"datum": -860}, "y": {"datum": -92.2}, "text": {"value": "."}}},
        {"mark": {"type": "text"}, "encoding": {"x": {"datum": -860}, "y": {"datum": -102.32}, "text": {"field": "center"}}},
        {"mark": {"type": "text", "align": "right"}, "encoding": {"x": {"datum": 746}, "y": {"datum": -102.32}, "text": {"value": "Span 1.5 MHz"}}},
        {"mark": {"type": "text"}, "encoding": {"x": {"datum": -860}, "y": {"datum": -106.67}, "text": {"value": "#Res BW 3 kHz"}}},
        {"mark": {"type": "text"}, "encoding": {"x": {"datum": -172}, "y": {"datum": -106.67}, "text": {"value": "#VBW 100 kHz"}}},
        {"mark": {"type": "text", "align": "right"}, "encoding": {"x": {"datum": 746}, "y": {"datum": -106.67}, "text": {"value": "#Sweep 500 s (1201 pts)"}}}
      ]
    },
    {
      "width": 533, "height": 345,
      "data": {"values": [{"title": "2473.984MHz", "marker": "Mkr1\u00a0\u00a02.473 879 28 GHz", "level": "-6.35 dBm", "center": "Center 2.473 984 00 GHz", "peak_kHz": -104.7, "peak_dBm": -6.35}]},
      "layer": [
        {"data": {"name": "hgrid"}, "mark": {"type": "rule", "color": "#7a7a7a", "strokeWidth": 1.5}, "encoding": {"y": {"field": "dB", "type": "quantitative", "scale": {"domain": [-100, 0], "nice": false, "zero": false}}}},
        {"data": {"name": "vgrid"}, "mark": {"type": "rule", "color": "#7a7a7a", "strokeWidth": 1.5}, "encoding": {"x": {"field": "div", "type": "quantitative", "scale": {"domain": [-750, 750], "nice": false, "zero": false}}}},
        {"data": {"name": "p3"}, "mark": {"type": "line", "color": "#ff00ff", "strokeWidth": 1, "clip": true},
         "encoding": {
           "x": {"field": "kHz", "type": "quantitative", "scale": {"domain": [-750, 750], "nice": false, "zero": false}},
           "y": {"field": "dBm", "type": "quantitative", "scale": {"domain": [-100, 0], "nice": false, "zero": false}}}},
        {"mark": {"type": "point", "shape": "diamond", "filled": true, "fill": "white", "stroke": "black", "strokeWidth": 1.5, "size": 50, "yOffset": -4, "opacity": 1},
         "encoding": {"x": {"field": "peak_kHz", "type": "quantitative"}, "y": {"field": "peak_dBm", "type": "quantitative"}}},
        {"mark": {"type": "text", "fontSize": 9, "dy": -14, "align": "center"}, "encoding": {"x": {"field": "peak_kHz", "type": "quantitative"}, "y": {"field": "peak_dBm", "type": "quantitative"}, "text": {"value": "1"}}},
        {"mark": {"type": "rule", "color": "black", "strokeWidth": 2.5}, "encoding": {"x": {"datum": -934.3}, "x2": {"datum": 788}, "y": {"datum": 26.9}}},
        {"mark": {"type": "rule", "color": "black", "strokeWidth": 2.5}, "encoding": {"x": {"datum": -934.3}, "x2": {"datum": 788}, "y": {"datum": 15.8}}},
        {"mark": {"type": "rule", "color": "black", "strokeWidth": 2.5}, "encoding": {"x": {"datum": -934.3}, "y": {"datum": 26.9}, "y2": {"datum": -108}}},
        {"mark": {"type": "text", "font": "Liberation Serif", "fontWeight": "bold", "fontSize": 31.5, "align": "center"}, "encoding": {"x": {"datum": -55}, "y": {"datum": 21.45}, "text": {"field": "title"}}},
        {"mark": {"type": "text", "font": "DejaVu Sans", "fontSize": 13, "align": "center", "color": "#3f55e0"}, "encoding": {"x": {"datum": -834}, "y": {"datum": 12.17}, "text": {"value": "✳"}}},
        {"mark": {"type": "text", "font": "Liberation Sans", "fontWeight": "bold", "fontSize": 11}, "encoding": {"x": {"datum": -775}, "y": {"datum": 12.17}, "text": {"value": "Agilent"}}},
        {"mark": {"type": "text", "fontSize": 12}, "encoding": {"x": {"datum": 302.5}, "y": {"datum": 12.17}, "text": {"value": "R"}}},
        {"mark": {"type": "text", "fontSize": 12}, "encoding": {"x": {"datum": 375.7}, "y": {"datum": 12.17}, "text": {"value": "T"}}},
        {"mark": {"type": "text", "align": "right"}, "encoding": {"x": {"datum": 753}, "y": {"datum": 7.54}, "text": {"field": "marker"}}},
        {"mark": {"type": "text"}, "encoding": {"x": {"datum": -860}, "y": {"datum": 2.32}, "text": {"value": "Ref 0 dBm"}}},
        {"mark": {"type": "text"}, "encoding": {"x": {"datum": -342}, "y": {"datum": 2.32}, "text": {"value": "Atten 10 dB"}}},
        {"mark": {"type": "text", "align": "right"}, "encoding": {"x": {"datum": 746}, "y": {"datum": 2.32}, "text": {"field": "level"}}},
        {"mark": {"type": "text"}, "encoding": {"x": {"datum": -860}, "y": {"datum": -1.74}, "text": {"value": "#Peak"}}},
        {"mark": {"type": "text"}, "encoding": {"x": {"datum": -860}, "y": {"datum": -6.38}, "text": {"value": "Log"}}},
        {"mark": {"type": "text"}, "encoding": {"x": {"datum": -860}, "y": {"datum": -11.01}, "text": {"value": "10"}}},
        {"mark": {"type": "text"}, "encoding": {"x": {"datum": -860}, "y": {"datum": -15.65}, "text": {"value": "dB/"}}},
        {"mark": {"type": "text"}, "encoding": {"x": {"datum": -860}, "y": {"datum": -50.72}, "text": {"value": "LgAv"}}},
        {"mark": {"type": "text"}, "encoding": {"x": {"datum": -860}, "y": {"datum": -57.39}, "text": {"value": "S1\u00a0\u00a0S2"}}},
        {"mark": {"type": "text"}, "encoding": {"x": {"datum": -860}, "y": {"datum": -62.03}, "text": {"value": "M3\u00a0\u00a0FS"}}},
        {"mark": {"type": "text", "align": "right"}, "encoding": {"x": {"datum": -749}, "y": {"datum": -66.67}, "text": {"value": "AA"}}},
        {"mark": {"type": "text"}, "encoding": {"x": {"datum": -860}, "y": {"datum": -71.59}, "text": {"value": "£(f):"}}},
        {"mark": {"type": "text"}, "encoding": {"x": {"datum": -860}, "y": {"datum": -76.23}, "text": {"value": "f>50k"}}},
        {"mark": {"type": "text"}, "encoding": {"x": {"datum": -860}, "y": {"datum": -81.16}, "text": {"value": "Swp"}}},
        {"mark": {"type": "text", "fontSize": 8}, "encoding": {"x": {"datum": -860}, "y": {"datum": -92.2}, "text": {"value": "."}}},
        {"mark": {"type": "text"}, "encoding": {"x": {"datum": -860}, "y": {"datum": -102.32}, "text": {"field": "center"}}},
        {"mark": {"type": "text", "align": "right"}, "encoding": {"x": {"datum": 746}, "y": {"datum": -102.32}, "text": {"value": "Span 1.5 MHz"}}},
        {"mark": {"type": "text"}, "encoding": {"x": {"datum": -860}, "y": {"datum": -106.67}, "text": {"value": "#Res BW 3 kHz"}}},
        {"mark": {"type": "text"}, "encoding": {"x": {"datum": -172}, "y": {"datum": -106.67}, "text": {"value": "#VBW 100 kHz"}}},
        {"mark": {"type": "text", "align": "right"}, "encoding": {"x": {"datum": 746}, "y": {"datum": -106.67}, "text": {"value": "#Sweep 500 s (1201 pts)"}}}
      ]
    }
  ]
}
